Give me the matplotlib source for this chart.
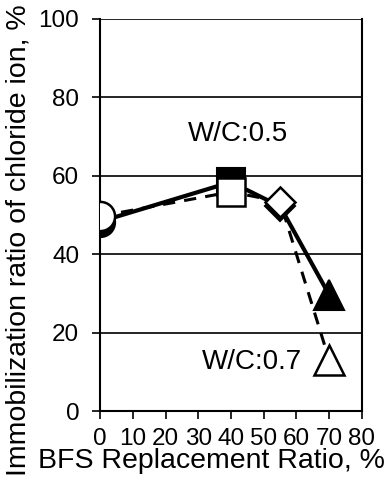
import matplotlib
matplotlib.use('Agg')
import matplotlib.pyplot as plt

plt.rcParams['font.family'] = ['Liberation Sans', 'DejaVu Sans']

# BFS replacement ratio (%) and immobilization ratio (%)
bfs = [0, 40, 55, 70]
wc05 = [48.3, 58.4, 52.2, 29.6]
wc07 = [49.7, 55.9, 53.4, 13.0]
markers = ['o', 's', 'D', '^']
sizes = {'o': 21, 's': 20, 'D': 15, '^': 21}

fig = plt.figure(figsize=(3.91, 4.87), dpi=100)
ax = fig.add_axes([0.2558, 0.156, 0.670, 0.805])

# W/C 0.5 : filled markers, solid line
ax.plot(bfs, wc05, '-', color='k', linewidth=3, zorder=3)
for x, y, m in zip(bfs, wc05, markers):
    ax.plot(x, y, m, color='k', markersize=sizes[m], markeredgewidth=1.5, zorder=4)

# W/C 0.7 : open markers, dashed line
ax.plot(bfs, wc07, '--', color='k', linewidth=2.2, dashes=(4, 3), zorder=5)
for x, y, m in zip(bfs, wc07, markers):
    ax.plot(x, y, m, markerfacecolor='white', markeredgecolor='k', markersize=sizes[m],
            markeredgewidth=1.8, zorder=6)

ax.text(42.1, 70.7, 'W/C:0.5', fontsize=20, ha='center', va='center')
ax.text(46.4, 12.6, 'W/C:0.7', fontsize=20, ha='center', va='center')

ax.set_xlim(0, 80)
ax.set_ylim(0, 100)
ax.set_xticks(range(0, 81, 10))
ax.set_yticks(range(0, 101, 20))
ax.tick_params(labelsize=17.5, direction='out', length=6, width=1.2, colors='k')
ax.tick_params(axis='x', pad=6)
ax.tick_params(axis='y', pad=9)
ax.yaxis.grid(True, color='k', linewidth=1.2)
ax.set_axisbelow(True)
ax.spines['top'].set_visible(False)
for s in ['left', 'right', 'bottom']:
    ax.spines[s].set_linewidth(1.5)

ax.set_xlabel('BFS Replacement Ratio, %', fontsize=20.5)
ax.set_ylabel('Immobilization ratio of chloride ion, %', fontsize=20.5)
ax.xaxis.set_label_coords(0.427, -0.094)
ax.yaxis.set_label_coords(-0.26, 0.436)

fig.savefig('out.png', dpi=100)
